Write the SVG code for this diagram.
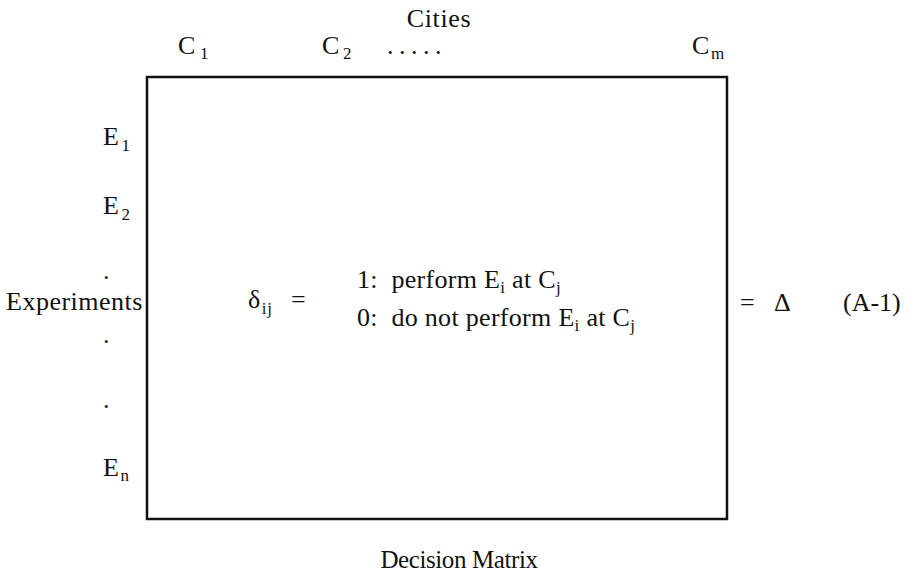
<svg xmlns="http://www.w3.org/2000/svg" width="913" height="574" viewBox="0 0 913 574">
<style>
text{font-family:"Liberation Serif","Times New Roman",serif;font-size:26px;fill:#111;letter-spacing:0.6px}
.sub{font-size:17px}
.box{fill:none;stroke:#111;stroke-width:2.5}
</style>
<rect width="913" height="574" fill="#fff"/>
<g id="matrix">
<rect class="box" x="147" y="77" width="580" height="442"/>
</g>
<g id="col-labels">
<text x="439" y="27" text-anchor="middle">Cities</text>
<text x="178" y="54">C<tspan class="sub" dy="5" dx="4">1</tspan></text>
<text x="322" y="54">C<tspan class="sub" dy="5" dx="3">2</tspan></text>
<text x="387" y="54" style="letter-spacing:5.5px">.....</text>
<text x="692" y="54">C<tspan class="sub" dy="5" dx="1">m</tspan></text>
</g>
<g id="row-labels">
<text x="103" y="145">E<tspan class="sub" dy="6" dx="2">1</tspan></text>
<text x="103" y="214">E<tspan class="sub" dy="6" dx="2">2</tspan></text>
<text x="103" y="279">.</text>
<text x="6" y="310" style="letter-spacing:0.5px">Experiments</text>
<text x="103" y="343">.</text>
<text x="103" y="408">.</text>
<text x="103" y="476">E<tspan class="sub" dy="5" dx="1">n</tspan></text>
</g>
<g id="definition">
<text x="248" y="308">δ<tspan class="sub" dy="6" dx="1">ij</tspan></text>
<text x="291" y="308">=</text>
<text x="357" y="288" xml:space="preserve" style="letter-spacing:0.3px">1:  perform E<tspan class="sub" dy="5">i</tspan><tspan dy="-5"> at C</tspan><tspan class="sub" dy="5">j</tspan></text>
<text x="357" y="326" xml:space="preserve" style="letter-spacing:0.3px">0:  do not perform E<tspan class="sub" dy="5">i</tspan><tspan dy="-5"> at C</tspan><tspan class="sub" dy="5">j</tspan></text>
</g>
<g id="result">
<text x="740" y="311">=</text>
<text x="774" y="311">Δ</text>
<text x="843" y="311" style="letter-spacing:0">(A-1)</text>
</g>
<g id="caption">
<text x="459" y="568" text-anchor="middle" style="letter-spacing:-0.4px;font-size:25px">Decision Matrix</text>
</g>
</svg>
